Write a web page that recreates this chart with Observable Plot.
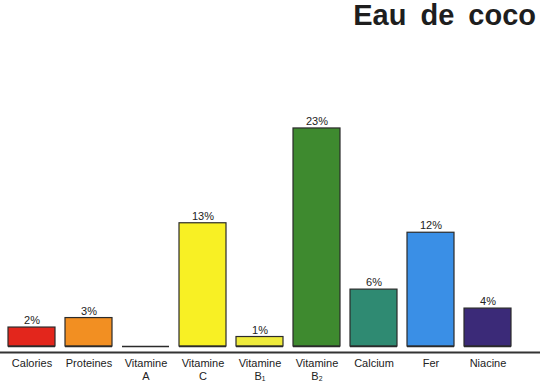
<!DOCTYPE html>
<html><head><meta charset="utf-8">
<script src="https://cdn.jsdelivr.net/npm/d3@7"></script>
<script src="https://cdn.jsdelivr.net/npm/@observablehq/plot@0.6"></script>
<style>
body{margin:0;background:#fff;font-family:"Liberation Sans",Arial,sans-serif;}
#wrap{width:540px;height:383px;position:relative;overflow:hidden}
#title{height:36px;line-height:30px;font-size:29px;font-weight:bold;text-align:right;padding-right:4px;word-spacing:6px;color:#1e1e1e}
</style></head><body><div id="wrap"><div id="title">Eau de coco</div></div>
<script>
const categories = ["Calories","Proteines","Vitamine A","Vitamine C","Vitamine B1","Vitamine B2","Calcium","Fer","Niacine"];
const values = [2, 3, 0, 13, 1, 23, 6, 12, 4];
const tickLabels = ["Calories","Proteines","Vitamine\nA","Vitamine\nC","Vitamine\nB\u2081","Vitamine\nB\u2082","Calcium","Fer","Niacine"];
const palette = ["#e3261c","#f28f22","#888888","#f8f024","#efeb3c","#3e8a2f","#2f8a72","#3a8fe6","#3b2a78"];
const data = categories.map((c, i) => ({category: c, value: values[i]}));
const chart = Plot.plot({
  width: 540, height: 347, marginTop: 73, marginBottom: 37, marginLeft: 1, marginRight: 23,
  style: {fontFamily: '"Liberation Sans",Arial,sans-serif', fontSize: "11px", color: "#222", background: "transparent"},
  x: {domain: categories, paddingInner: 0.18, paddingOuter: 0.09, label: null},
  y: {domain: [0, 25], axis: null},
  color: {domain: categories, range: palette},
  marks: [
    Plot.barY(data, {x: "category", y: "value", fill: "category", stroke: "#2b2b2b", strokeWidth: 1.2}),
    Plot.tickY(data, {x: "category", y: 0, stroke: "#2b2b2b", strokeWidth: 1.5}),
    Plot.text(data.filter(d => d.value > 0), {x: "category", y: "value", text: d => d.value + "%", dy: -7, fontSize: 11, fill: "#222"}),
    Plot.ruleY([0], {dy: 6, insetLeft: -1, insetRight: -23, stroke: "#333", strokeWidth: 2}),
    Plot.axisX({tickSize: 0, tickPadding: 11, lineHeight: 1.2, fontSize: 11, label: null,
      tickFormat: d => tickLabels[categories.indexOf(d)]})
  ]
});
document.getElementById("wrap").appendChild(chart);
</script>
</body></html>
